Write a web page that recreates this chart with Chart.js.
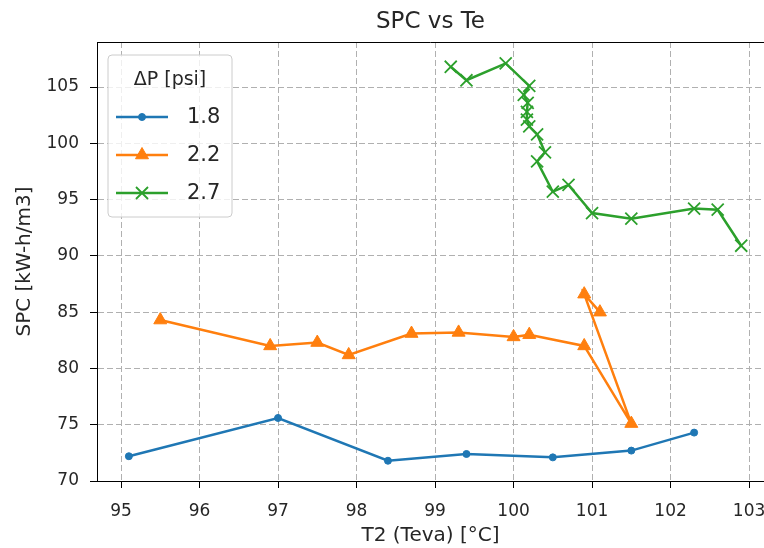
<!DOCTYPE html>
<html>
<head>
<meta charset="utf-8">
<script src="https://cdn.jsdelivr.net/npm/chart.js@4.4.0/dist/chart.umd.min.js"></script>
<style>
  html, body { margin: 0; padding: 0; background: #fff; }
  #wrap { width: 764px; height: 548px; }
</style>
</head>
<body>
<div id="wrap"><canvas id="spcChart" width="764" height="548"></canvas></div>
<script>
// values
const seriesLabels = ['1.8', '2.2', '2.7'];

const teva18 = [95.1, 97.0, 98.4, 99.4, 100.5, 101.5, 102.3];
const spc18 = [72.2, 75.6, 71.8, 72.4, 72.1, 72.7, 74.3];

const teva22 = [95.5, 96.9, 97.5, 97.9, 98.7, 99.3, 100.0, 100.2, 100.9, 101.5, 100.9, 101.1];
const spc22 = [84.3, 82.0, 82.3, 81.2, 83.1, 83.2, 82.8, 83.0, 82.0, 75.1, 86.6, 85.0];

const teva27 = [99.2, 99.4, 99.9, 100.2, 100.13, 100.18, 100.17, 100.17, 100.2, 100.3, 100.4, 100.3, 100.5, 100.7, 101.0, 101.5, 102.3, 102.6, 102.9];
const spc27 = [106.8, 105.6, 107.1, 105.1, 104.3, 103.6, 102.8, 102.1, 101.5, 100.8, 99.2, 98.4, 95.7, 96.3, 93.8, 93.3, 94.2, 94.1, 90.9];

const xTicks = [95, 96, 97, 98, 99, 100, 101, 102, 103];
const yTicks = [70, 75, 80, 85, 90, 95, 100, 105];

const toPoints = (xs, ys) => xs.map((x, i) => ({ x: x, y: ys[i] }));

const fontFamily = '"DejaVu Sans", sans-serif';
const textColor = '#262626';
const noPadding = () => ({ left: 0, top: 0, right: 0, bottom: 0 });

// matplotlib-like top spine, title and legend
const decorPlugin = {
    id: 'decor',
    afterDraw(chart) {
        const ctx = chart.ctx;
        const area = chart.chartArea;

        ctx.save();
        ctx.strokeStyle = '#000';
        ctx.lineWidth = 1;
        ctx.beginPath();
        ctx.moveTo(area.left, area.top + 0.5);
        ctx.lineTo(area.right, area.top + 0.5);
        ctx.stroke();

        ctx.fillStyle = textColor;
        ctx.font = '23px ' + fontFamily;
        ctx.textAlign = 'center';
        ctx.textBaseline = 'middle';
        ctx.fillText('SPC vs Te', (area.left + area.right) / 2, 22);

        // legend box
        const bx = area.left + 11, by = area.top + 13, bw = 124, bh = 162;
        const r = 4;
        ctx.beginPath();
        ctx.moveTo(bx + r, by);
        ctx.arcTo(bx + bw, by, bx + bw, by + bh, r);
        ctx.arcTo(bx + bw, by + bh, bx, by + bh, r);
        ctx.arcTo(bx, by + bh, bx, by, r);
        ctx.arcTo(bx, by, bx + bw, by, r);
        ctx.closePath();
        ctx.fillStyle = 'rgba(255,255,255,0.8)';
        ctx.fill();
        ctx.strokeStyle = '#cccccc';
        ctx.lineWidth = 1;
        ctx.stroke();

        ctx.fillStyle = textColor;
        ctx.font = '19px ' + fontFamily;
        ctx.fillText('\u0394P [psi]', bx + bw / 2, by + 25);

        chart.data.datasets.forEach((ds, i) => {
            const y = by + 62 + i * 38;
            ctx.strokeStyle = ds.borderColor;
            ctx.lineWidth = ds.borderWidth;
            ctx.beginPath();
            ctx.moveTo(bx + 8, y);
            ctx.lineTo(bx + 60, y);
            ctx.stroke();
            ctx.fillStyle = ds.pointBackgroundColor;
            ctx.strokeStyle = ds.pointBorderColor;
            ctx.lineWidth = ds.pointBorderWidth;
            Chart.helpers.drawPoint(ctx, {
                pointStyle: ds.pointStyle,
                radius: ds.pointRadius,
                borderWidth: ds.pointBorderWidth
            }, bx + 34, y);
            ctx.fillStyle = textColor;
            ctx.font = '21px ' + fontFamily;
            ctx.textAlign = 'left';
            ctx.fillText(ds.label, bx + 79, y + 1);
            ctx.textAlign = 'center';
        });
        ctx.restore();
    }
};

const makeSet = (label, xs, ys, color, style, radius, bw) => ({
    label: label,
    data: toPoints(xs, ys),
    showLine: true,
    borderColor: color,
    backgroundColor: color,
    pointBackgroundColor: color,
    pointBorderColor: color,
    borderWidth: 2.5,
    pointStyle: style,
    pointRadius: radius,
    pointHoverRadius: radius,
    pointBorderWidth: bw,
    tension: 0
});

const gridOpts = {
    color: '#b0b0b0',
    lineWidth: 1,
    tickColor: '#000',
    tickBorderDash: [],
    tickLength: 7
};

new Chart(document.getElementById('spcChart').getContext('2d'), {
    type: 'scatter',
    data: {
        datasets: [
            makeSet(seriesLabels[0], teva18, spc18, '#1f77b4', 'circle', 3.5, 1),
            makeSet(seriesLabels[1], teva22, spc22, '#ff7f0e', 'triangle', 7.5, 1),
            makeSet(seriesLabels[2], teva27, spc27, '#2ca02c', 'crossRot', 8.5, 1.8)
        ]
    },
    options: {
        responsive: false,
        animation: false,
        layout: { autoPadding: false, padding: { top: 42, right: 0, left: 0, bottom: 0 } },
        plugins: {
            legend: { display: false },
            title: { display: false },
            tooltip: { enabled: false }
        },
        scales: {
            x: {
                type: 'linear',
                min: 94.694,
                max: 103.19,
                afterBuildTicks: (axis) => { axis.ticks = xTicks.map(v => ({ value: v })); },
                afterFit: (axis) => {
                    axis.height = 67;
                    axis.paddingRight = 0;
                    axis.paddingLeft = 0;
                    axis.getPadding = noPadding;
                },
                grid: gridOpts,
                border: { color: '#000', width: 1, dash: [6, 3] },
                ticks: { color: textColor, font: { family: fontFamily, size: 17 }, padding: 13, maxRotation: 0 },
                title: { display: true, text: 'T2 (Teva) [\u00B0C]', color: textColor, font: { family: fontFamily, size: 20 }, padding: { top: -2, bottom: 0 } }
            },
            y: {
                type: 'linear',
                min: 70,
                max: 109,
                afterBuildTicks: (axis) => { axis.ticks = yTicks.map(v => ({ value: v })); },
                afterFit: (axis) => {
                    axis.width = 97;
                    axis.paddingTop = 0;
                    axis.paddingBottom = 0;
                    axis.getPadding = noPadding;
                },
                grid: gridOpts,
                border: { color: '#000', width: 1, dash: [6, 3] },
                ticks: { color: textColor, font: { family: fontFamily, size: 17 }, padding: 11 },
                title: { display: true, text: 'SPC [kW-h/m3]', color: textColor, font: { family: fontFamily, size: 20 }, padding: { top: 13, bottom: 0 } }
            }
        }
    },
    plugins: [decorPlugin]
});
</script>
</body>
</html>
